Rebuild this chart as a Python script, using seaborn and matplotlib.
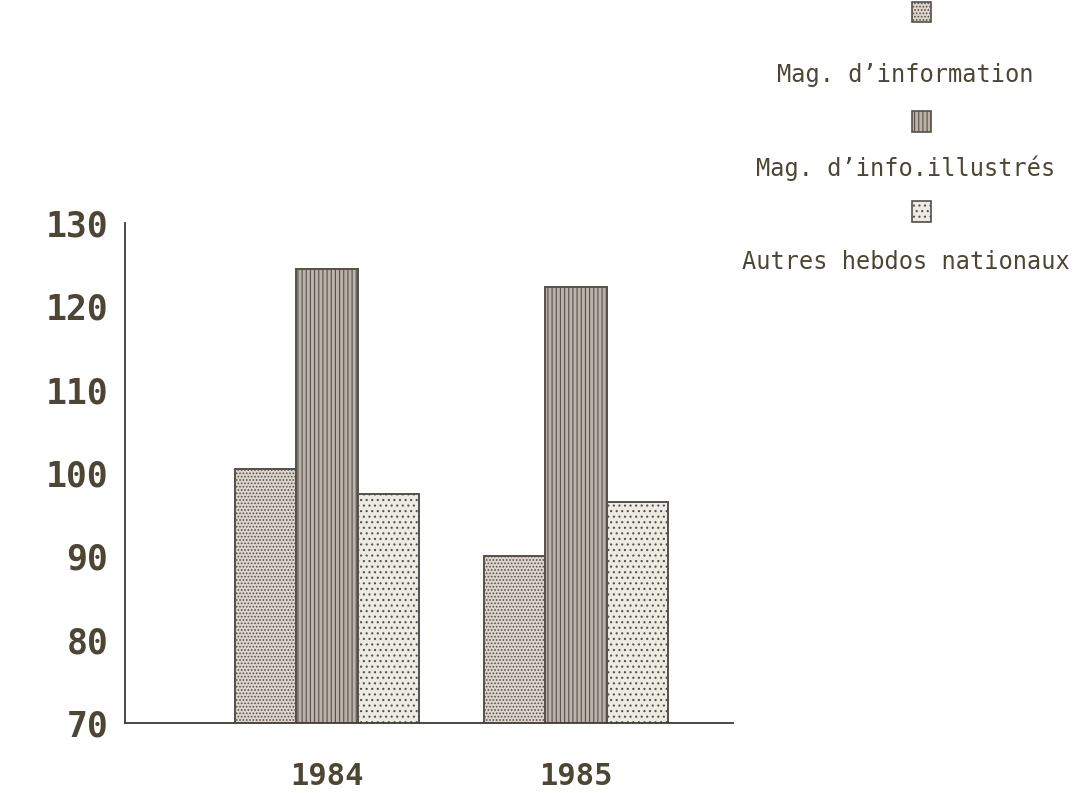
import seaborn as sns
import pandas as pd
import matplotlib.pyplot as plt
import matplotlib
from matplotlib.patches import Rectangle

sns.set_style('white')
plt.rcParams['font.family'] = ['DejaVu Sans Mono', 'DejaVu Sans']
plt.rcParams['hatch.linewidth'] = 0.8

years = ['1984', '1985']
series = ['Mag. d\u2019information', 'Mag. d\u2019info.illustr\u00e9s', 'Autres hebdos nationaux']
mag_info = [100.5, 90.0]
mag_illus = [124.5, 122.3]
autres = [97.5, 96.5]
yticks = [70, 80, 90, 100, 110, 120, 130]

faces = ['#ddd5ca', '#bdb4a7', '#eeeae3']
hatches = ['.....', '||||', '...']
ink = '#3d3a34'
text_col = '#4e4634'

df = pd.DataFrame({
    'annee': years * 3,
    'type': [series[0]] * 2 + [series[1]] * 2 + [series[2]] * 2,
    'valeur': mag_info + mag_illus + autres,
})

fig = plt.figure(figsize=(10.83, 7.93), dpi=100)
ax = fig.add_axes([0.1154, 0.0883, 0.5615, 0.6305])

sns.barplot(data=df, x='annee', y='valeur', hue='type', hue_order=series,
            palette=faces, width=0.74, edgecolor='#55504a', linewidth=1.4,
            legend=False, ax=ax)

for cont, h in zip(ax.containers, hatches):
    for bar in cont:
        bar.set_hatch(h)

ax.set_ylim(70, 130)
ax.set_xlim(-0.81, 1.63)
ax.set_yticks(yticks)
ax.set_xlabel('')
ax.set_ylabel('')
sns.despine(ax=ax)
for s in ['left', 'bottom']:
    ax.spines[s].set_color(ink)
    ax.spines[s].set_linewidth(1.3)

ax.tick_params(axis='y', direction='out', length=8, width=1.2, color=ink, pad=4,
               labelsize=25, labelcolor=text_col)
ax.tick_params(axis='x', length=0, pad=28, labelsize=22, labelcolor=text_col)
for lab in ax.get_yticklabels() + ax.get_xticklabels():
    lab.set_fontweight('bold')

# legend: swatch above each label, centred
sw_y = [0.985, 0.847, 0.733]
tx_y = [0.905, 0.788, 0.670]
for i, name in enumerate(series):
    fig.add_artist(Rectangle((0.842, sw_y[i] - 0.013), 0.018, 0.026,
                             transform=fig.transFigure, facecolor=faces[i],
                             edgecolor='#55504a', hatch=hatches[i], linewidth=1.2))
    fig.text(0.836, tx_y[i], name, ha='center', va='center', fontsize=17,
             color=text_col)

plt.savefig('out.png', dpi=100)
